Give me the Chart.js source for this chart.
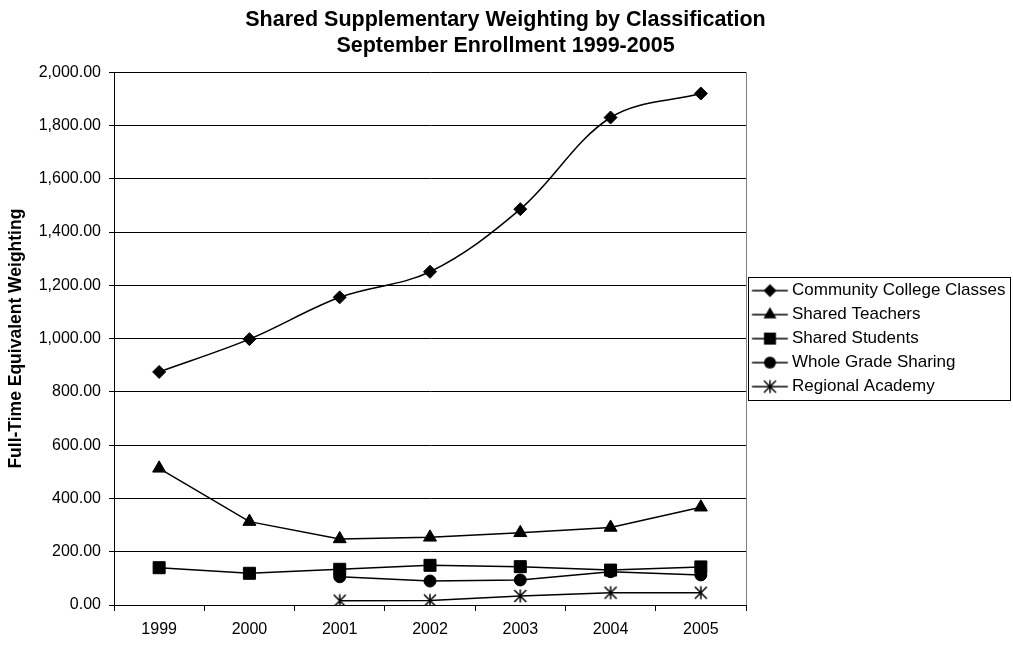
<!DOCTYPE html>
<html><head><meta charset="utf-8">
<script src="https://cdn.jsdelivr.net/npm/chart.js@4.4.1/dist/chart.umd.min.js"></script>
<style>html,body{margin:0;padding:0;background:#fff}#wrap{width:1013px;height:645px;position:relative}</style>
</head><body><div id="wrap"><canvas id="c"></canvas></div>
<script>
// ---- data ----
const years = ['1999', '2000', '2001', '2002', '2003', '2004', '2005'];
const communityCollege = [875, 998, 1155, 1251, 1486, 1830, 1920];
const sharedTeachers = [513, 313, 248, 254, 271, 291, 367];
const sharedStudents = [140, 119, 134, 149, 144, 131, 143];
const wholeGradeSharing = [null, null, 106, 90, 94, 125, 113];
const regionalAcademy = [null, null, 16, 17, 34, 46, 46];
const seriesNames = ['Community College Classes', 'Shared Teachers', 'Shared Students', 'Whole Grade Sharing', 'Regional Academy'];
const titleLines = ['Shared Supplementary Weighting by Classification', 'September Enrollment 1999-2005'];
const yAxisTitle = 'Full-Time Equivalent Weighting';
const yMin = 0, yMax = 2000, yStep = 200;

// ---- styling helpers ----
const FONT = "'Liberation Sans', Arial, sans-serif";
const markerKinds = ['diamond', 'triangle', 'square', 'circle', 'star'];

function drawMarker(ctx, kind, cx, cy) {
  ctx.save();
  ctx.fillStyle = '#000'; ctx.strokeStyle = '#000'; ctx.lineWidth = 1;
  ctx.beginPath();
  if (kind === 'diamond') {
    const r = 6.5;
    ctx.moveTo(cx, cy - r); ctx.lineTo(cx + r, cy); ctx.lineTo(cx, cy + r); ctx.lineTo(cx - r, cy); ctx.closePath();
    ctx.fill();
  } else if (kind === 'triangle') {
    const r = 7.5;
    ctx.moveTo(cx, cy - r); ctx.lineTo(cx + 0.866 * r, cy + 0.5 * r); ctx.lineTo(cx - 0.866 * r, cy + 0.5 * r); ctx.closePath();
    ctx.fill();
  } else if (kind === 'square') {
    ctx.rect(cx - 6, cy - 6, 12, 12); ctx.fill();
  } else if (kind === 'circle') {
    ctx.arc(cx, cy, 6, 0, Math.PI * 2); ctx.fill();
  } else if (kind === 'star') {
    ctx.lineWidth = 1.5;
    ctx.moveTo(cx - 6, cy - 6); ctx.lineTo(cx + 6, cy + 6);
    ctx.moveTo(cx + 6, cy - 6); ctx.lineTo(cx - 6, cy + 6);
    ctx.moveTo(cx, cy - 6.5); ctx.lineTo(cx, cy + 6.5);
    ctx.stroke();
  }
  ctx.restore();
}

function makeStarImage() {
  const c = document.createElement('canvas');
  c.width = 16; c.height = 16;
  drawMarker(c.getContext('2d'), 'star', 8, 8);
  return c;
}

function makeLegendImage(kind) {
  const c = document.createElement('canvas');
  c.width = 40; c.height = 18;
  const g = c.getContext('2d');
  g.strokeStyle = '#000'; g.lineWidth = 1.5;
  g.beginPath(); g.moveTo(3.75, 9); g.lineTo(39.75, 9); g.stroke();
  drawMarker(g, kind, 21.75, 9);
  return c;
}

const starImg = makeStarImage();
const legendImgs = markerKinds.map(makeLegendImage);

function ds(label, data, pointStyle, radius, tension) {
  return {
    label, data, pointStyle,
    pointRadius: radius, pointHoverRadius: radius,
    borderColor: '#000', backgroundColor: '#000',
    pointBackgroundColor: '#000', pointBorderColor: '#000', pointBorderWidth: 1,
    borderWidth: 1.5, tension, fill: false, spanGaps: false
  };
}

const datasets = [
  ds(seriesNames[0], communityCollege, 'rectRot', 6.5, 0.35),
  ds(seriesNames[1], sharedTeachers, 'triangle', 7.5, 0),
  ds(seriesNames[2], sharedStudents, 'rect', 8.5, 0),
  ds(seriesNames[3], wholeGradeSharing, 'circle', 6, 0),
  ds(seriesNames[4], regionalAcademy, starImg, 6, 0)
];

const framePlugin = {
  id: 'frame',
  beforeDatasetsDraw(chart) {
    const {ctx, chartArea: ca} = chart;
    ctx.save();
    ctx.strokeStyle = '#808080'; ctx.lineWidth = 1;
    ctx.beginPath();
    ctx.moveTo(Math.round(ca.right) + 0.5, ca.top);
    ctx.lineTo(Math.round(ca.right) + 0.5, ca.bottom);
    ctx.stroke();
    ctx.restore();
  },
  afterDraw(chart) {
    const {ctx, chartArea: ca, legend} = chart;
    const cy = (ca.top + ca.bottom) / 2;
    const left = Math.round(legend.left + 2) + 0.5;
    const right = 1010.5;
    const top = Math.round(cy - 61.5) + 0.5;
    const bottom = top + 123;
    ctx.save();
    ctx.strokeStyle = '#000'; ctx.lineWidth = 1;
    ctx.strokeRect(left, top, right - left, bottom - top);
    ctx.restore();
  }
};

new Chart(document.getElementById('c'), {
  type: 'line',
  data: { labels: years, datasets },
  plugins: [framePlugin],
  options: {
    responsive: true, maintainAspectRatio: false, animation: false,
    devicePixelRatio: 1,
    layout: { padding: { left: 0, right: 2, top: 0, bottom: 0 } },
    plugins: {
      tooltip: { enabled: false },
      title: {
        display: true, text: titleLines, color: '#000',
        font: { family: FONT, size: 21.5, weight: 'bold', lineHeight: 1.24 },
        padding: { top: 6.4, bottom: 12.5 }
      },
      legend: {
        display: true, position: 'right', align: 'center', fullSize: false, maxWidth: 265,
        labels: {
          usePointStyle: true, pointStyleWidth: 30.5, padding: 7, color: '#000',
          font: { family: FONT, size: 17 },
          generateLabels(chart) {
            return chart.data.datasets.map((d, i) => ({
              text: d.label, pointStyle: legendImgs[i], datasetIndex: i,
              fillStyle: 'rgba(0,0,0,0)', strokeStyle: 'rgba(0,0,0,0)', lineWidth: 0, hidden: false, fontColor: '#000'
            }));
          }
        },
        onClick: null
      }
    },
    scales: {
      x: {
        type: 'category', offset: true,
        grid: { offset: true, drawOnChartArea: false, drawTicks: true, tickLength: 6, color: '#000', lineWidth: 1 },
        border: { color: '#000', width: 1 },
        ticks: { color: '#000', font: { family: FONT, size: 16 }, padding: 9, maxRotation: 0, autoSkip: false },
        afterFit(s) { s.height = 40; }
      },
      y: {
        min: yMin, max: yMax,
        grid: { color: '#000', lineWidth: 1, drawTicks: true, tickLength: 5 },
        border: { color: '#000', width: 1 },
        ticks: {
          stepSize: yStep, padding: 8, color: '#000', font: { family: FONT, size: 16 },
          callback: v => Number(v).toLocaleString('en-US', { minimumFractionDigits: 2, maximumFractionDigits: 2 })
        },
        title: {
          display: true, text: yAxisTitle, color: '#000',
          font: { family: FONT, size: 17.5, weight: 'bold', lineHeight: 1.2 },
          padding: { top: 6, bottom: 0 }
        },
        afterFit(s) { s.width = 114; }
      }
    }
  }
});
</script>
</body></html>
